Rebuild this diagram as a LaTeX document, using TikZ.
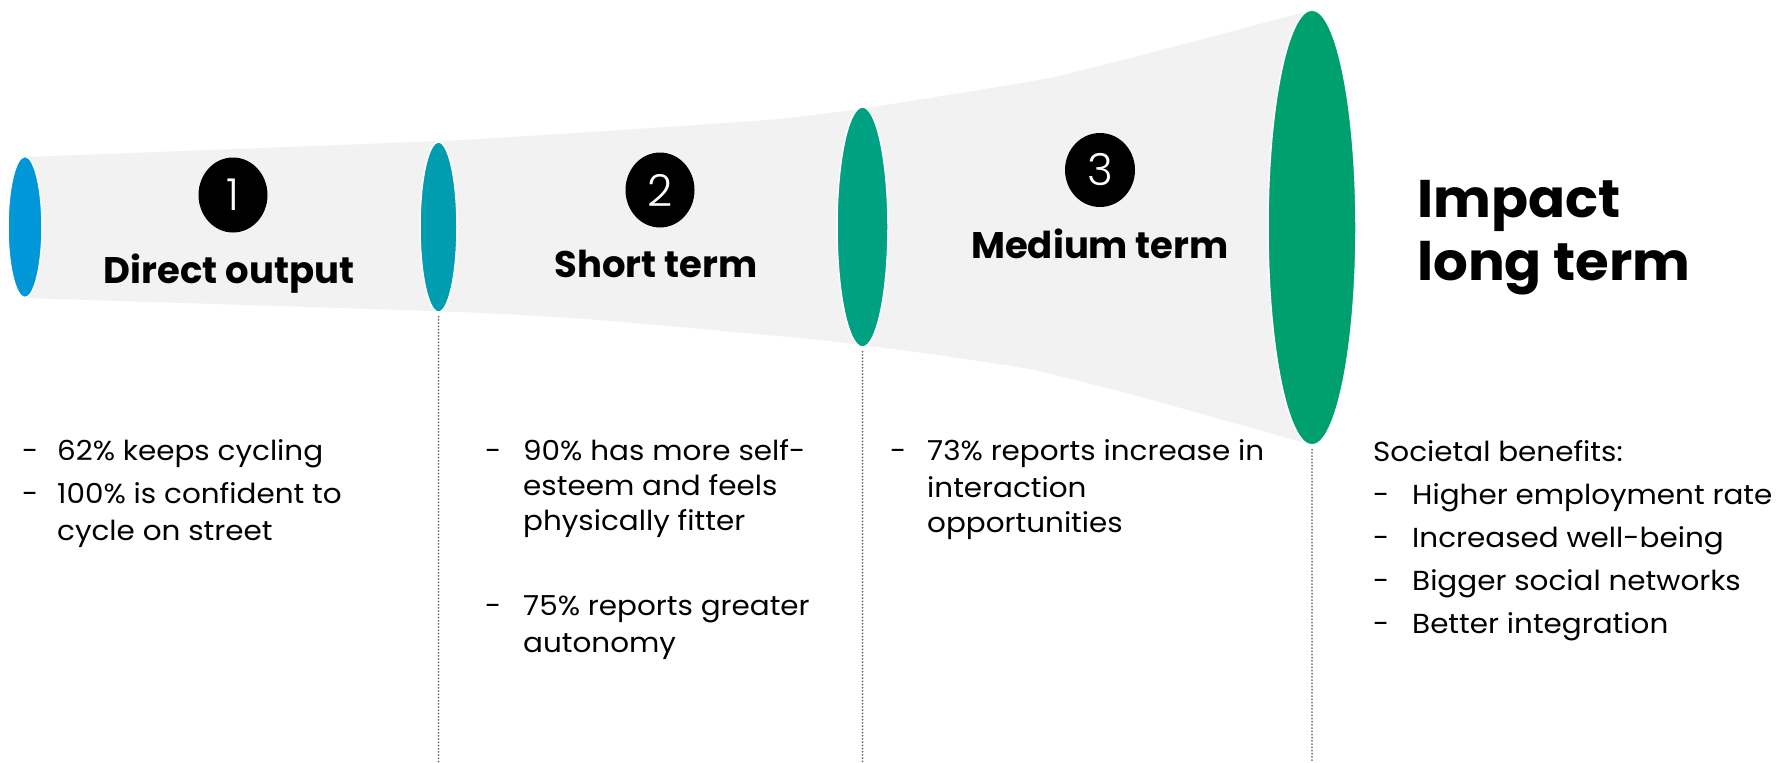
\documentclass[tikz,border=0pt]{standalone}
\usepackage{fontspec}
\setmainfont{Poppins}
\newfontfamily\lightfont{Poppins Light}
\usetikzlibrary{shapes.geometric}
\definecolor{funnel}{HTML}{F2F2F2}
\definecolor{cA}{HTML}{0097D9}
\definecolor{cB}{HTML}{009CB0}
\definecolor{cC}{HTML}{00A082}
\definecolor{cD}{HTML}{00A06E}
\definecolor{dotgray}{HTML}{6E6E6E}
\tikzset{
  lens/.style={ellipse, draw=white, line width=1.5pt, inner sep=0pt},
  numdisc/.style={ellipse, fill=black, inner sep=0pt, minimum width=69pt, minimum height=75pt},
  numtxt/.style={text=white, inner sep=0pt, font=\lightfont\fontsize{44}{44}\selectfont},
  head/.style={inner sep=0pt, anchor=base, font=\bfseries\fontsize{37}{40}\selectfont},
  bighead/.style={inner sep=0pt, anchor=base west, font=\bfseries\fontsize{53}{60}\selectfont\addfontfeature{FakeStretch=1.03}},
  body/.style={inner sep=0pt, anchor=base west, font=\fontsize{27.5}{30}\selectfont\addfontfeature{FakeStretch=1.07}},
  guide/.style={draw=dotgray, line width=2pt, line cap=round, dash pattern=on 0pt off 3.2pt},
}
\begin{document}
\begin{tikzpicture}[x=1pt, y=-1pt]
\useasboundingbox (0,0) rectangle (1781,763);
% funnel body
\fill[funnel] plot[smooth, tension=0.25] coordinates {(25,157) (460,140) (767,120) (866,108) (1049,78) (1188,43) (1312,10)}
  -- plot[smooth, tension=0.25] coordinates {(1312,445) (1141,397) (1034,370) (938,355) (820,340) (600,320) (460,312) (25,298)} -- cycle;
% lenses
\node[lens, fill=cA, minimum width=34pt, minimum height=141pt] (e1) at (25,227) {};
\node[lens, fill=cB, minimum width=37pt, minimum height=170pt] (e2) at (438.5,227) {};
\node[lens, fill=cC, minimum width=51pt, minimum height=240pt] (e3) at (862.5,227) {};
\node[lens, fill=cD, minimum width=88pt, minimum height=435pt] (e4) at (1312,227.5) {};
% guides
\coordinate (b2) at (438.5,763);
\coordinate (b3) at (862.5,763);
\coordinate (b4) at (1312,763);
\draw[guide] ([yshift=-4pt]e2.south) -- (b2);
\draw[guide] ([yshift=-4pt]e3.south) -- (b3);
\draw[guide] ([yshift=-4pt]e4.south) -- (b4);
% number discs
\node[numdisc] (n1) at (233,195) {};
\node[numtxt] (t1) at (n1.center) {1};
\node[numdisc] (n2) at (660,190) {};
\node[numtxt] (t2) at (n2.center) {2};
\node[numdisc, minimum width=70pt, minimum height=74pt] (n3) at (1100,170) {};
\node[numtxt] (t3) at (n3.center) {3};
% headings
\node[head] (h1) at (229,283) {Direct output};
\node[head] (h2) at (656,277) {Short term};
\node[head] (h3) at (1100,258) {Medium term};
\node[bighead] (h4a) at (1417,217) {Impact};
\node[bighead] (h4b) at (1417,280) {long term};
% column 1
\node[body] (d11) at (22,460) {-};
\node[body] (l11) at (57,460) {62\% keeps cycling};
\node[body] (d12) at (22,503) {-};
\node[body] (l12) at (57,503) {100\% is confident to};
\node[body] (l13) at (57,540) {cycle on street};
% column 2
\node[body] (d21) at (485,460) {-};
\node[body] (l21) at (523,460) {90\% has more self-};
\node[body] (l22) at (523,495) {esteem and feels};
\node[body] (l23) at (523,530) {physically fitter};
\node[body] (d22) at (485,615) {-};
\node[body] (l24) at (523,615) {75\% reports greater};
\node[body] (l25) at (523,652) {autonomy};
% column 3
\node[body] (d31) at (890,460) {-};
\node[body] (l31) at (927,460) {73\% reports increase in};
\node[body] (l32) at (927,497) {interaction};
\node[body] (l33) at (927,532) {opportunities};
% column 4
\node[body] (l40) at (1373,461) {Societal benefits:};
\node[body] (d41) at (1373,504) {-};
\node[body] (l41) at (1412,504) {Higher employment rate};
\node[body] (d42) at (1373,547) {-};
\node[body] (l42) at (1412,547) {Increased well-being};
\node[body] (d43) at (1373,590) {-};
\node[body] (l43) at (1412,590) {Bigger social networks};
\node[body] (d44) at (1373,633) {-};
\node[body] (l44) at (1412,633) {Better integration};
\end{tikzpicture}
\end{document}
